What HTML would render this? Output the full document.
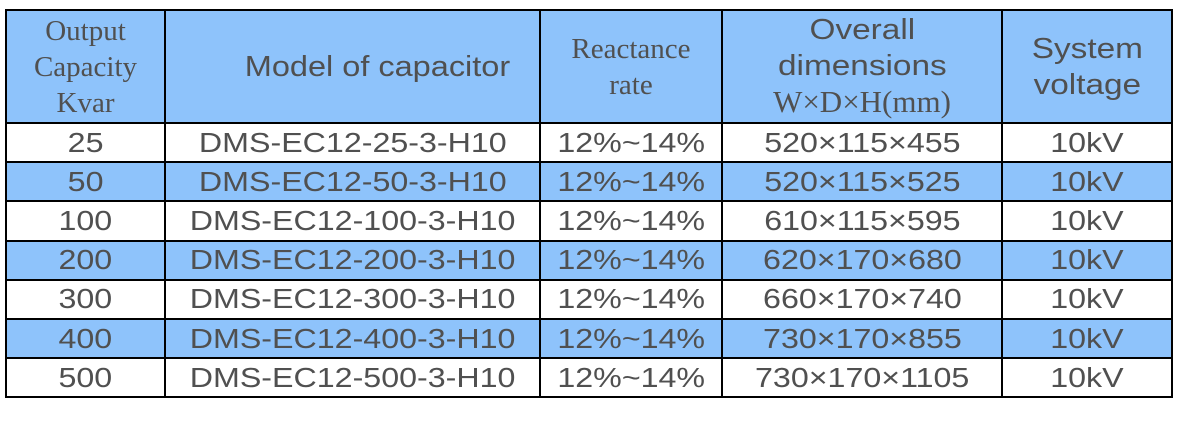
<!DOCTYPE html>
<html><head><style>
body{margin:0;background:#fff;width:1178px;height:442px;overflow:hidden;}
table{position:absolute;left:5px;top:9px;border-collapse:collapse;color:#505050;font-family:"Liberation Sans",sans-serif;}
td{border:2.5px solid #000;text-align:center;padding:0;font-size:28px;height:37.2px;line-height:36px;}
td span.x{display:inline-block;transform:scaleX(1.15);}
tr.b td{background:#8ec3fb;}
tr.h td{background:#8ec3fb;height:111px;font-size:29px;line-height:36px;}
.s{font-family:"Liberation Serif",serif;font-size:31px;}
</style></head><body>
<table>
<colgroup><col style="width:159px"><col style="width:375px"><col style="width:182px"><col style="width:280px"><col style="width:170px"></colgroup>
<tr class="h"><td class="s">Output<br>Capacity<br>Kvar</td><td><span class="x" style="position:relative;left:25px;transform:scaleX(1.12)">Model of capacitor</span></td><td class="s">Reactance<br>rate</td><td><span class="x">Overall<br>dimensions</span><br><span class="s">W×D×H(mm)</span></td><td><span class="x">System<br>voltage</span></td></tr>
<tr><td><span class="x">25</span></td><td><span class="x">DMS-EC12-25-3-H10</span></td><td><span class="x">12%~14%</span></td><td><span class="x">520×115×455</span></td><td><span class="x">10kV</span></td></tr>
<tr class="b"><td><span class="x">50</span></td><td><span class="x">DMS-EC12-50-3-H10</span></td><td><span class="x">12%~14%</span></td><td><span class="x">520×115×525</span></td><td><span class="x">10kV</span></td></tr>
<tr><td><span class="x">100</span></td><td><span class="x">DMS-EC12-100-3-H10</span></td><td><span class="x">12%~14%</span></td><td><span class="x">610×115×595</span></td><td><span class="x">10kV</span></td></tr>
<tr class="b"><td><span class="x">200</span></td><td><span class="x">DMS-EC12-200-3-H10</span></td><td><span class="x">12%~14%</span></td><td><span class="x">620×170×680</span></td><td><span class="x">10kV</span></td></tr>
<tr><td><span class="x">300</span></td><td><span class="x">DMS-EC12-300-3-H10</span></td><td><span class="x">12%~14%</span></td><td><span class="x">660×170×740</span></td><td><span class="x">10kV</span></td></tr>
<tr class="b"><td><span class="x">400</span></td><td><span class="x">DMS-EC12-400-3-H10</span></td><td><span class="x">12%~14%</span></td><td><span class="x">730×170×855</span></td><td><span class="x">10kV</span></td></tr>
<tr><td><span class="x">500</span></td><td><span class="x">DMS-EC12-500-3-H10</span></td><td><span class="x">12%~14%</span></td><td><span class="x">730×170×1105</span></td><td><span class="x">10kV</span></td></tr>
</table>
</body></html>
